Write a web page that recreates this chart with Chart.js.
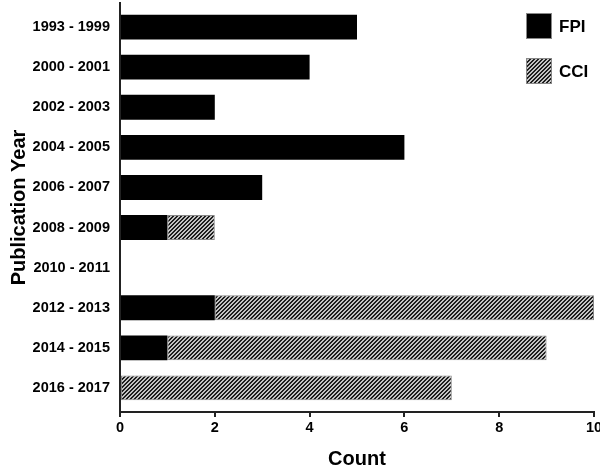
<!DOCTYPE html>
<html>
<head>
<meta charset="utf-8">
<script src="https://cdn.jsdelivr.net/npm/chart.js@4.4.1/dist/chart.umd.min.js"></script>
<style>
html,body{margin:0;padding:0;background:#fff}
#wrap{width:600px;height:466px}
</style>
</head>
<body>
<div id="wrap"><canvas id="chart"></canvas></div>
<script>
// data
const categories=['1993 - 1999','2000 - 2001','2002 - 2003','2004 - 2005','2006 - 2007','2008 - 2009','2010 - 2011','2012 - 2013','2014 - 2015','2016 - 2017'];
const fpiCounts=[5,4,2,6,3,1,0,2,1,0];
const cciCounts=[0,0,0,0,0,1,0,8,8,7];
const countTicks=[0,2,4,6,8,10];

const FONT='"Liberation Sans", Arial, sans-serif';

// diagonal hatch for CCI
function hatch(){
  const c=document.createElement('canvas');c.width=4;c.height=4;
  const g=c.getContext('2d');
  for(let x=0;x<4;x++)for(let y=0;y<4;y++){
    g.fillStyle=((x+y)%4<2)?'#1e1e1e':'#c4c4c4';
    g.fillRect(x,y,1,1);
  }
  return g.createPattern(c,'repeat');
}

const legendBox={
  id:'legendBox',
  afterDraw(chart){
    const ctx=chart.ctx;
    ctx.save();
    chart.data.datasets.forEach((ds,i)=>{
      const y=13+i*45;
      ctx.fillStyle=ds.backgroundColor;ctx.fillRect(526,y,26,26);
      ctx.strokeStyle='#888';ctx.lineWidth=1;ctx.strokeRect(526.5,y+.5,25,25);
      ctx.fillStyle='#000';ctx.font='bold 17px '+FONT;ctx.textBaseline='middle';ctx.textAlign='left';
      ctx.fillText(ds.label,559,y+14);
    });
    ctx.restore();
  }
};

new Chart(document.getElementById('chart').getContext('2d'),{
  type:'bar',
  data:{datasets:[
    {label:'FPI',data:fpiCounts.map((v,i)=>({x:v,y:i})),backgroundColor:'#000',borderWidth:0},
    {label:'CCI',data:cciCounts.map((v,i)=>({x:v,y:i})),backgroundColor:hatch(),borderColor:'#888',borderWidth:1,borderSkipped:false},
  ]},
  options:{
    indexAxis:'y',responsive:true,maintainAspectRatio:false,animation:false,events:[],
    barPercentage:0.62,categoryPercentage:1,
    layout:{padding:{top:3,right:6,left:0,bottom:0}},
    plugins:{legend:{display:false},tooltip:{enabled:false}},
    scales:{
      x:{type:'linear',stacked:true,min:0,max:10,
        afterBuildTicks:s=>{s.ticks=countTicks.map(v=>({value:v}));},
        afterFit:s=>{s.height=54;s.paddingRight=0;s.paddingLeft=0;},
        border:{color:'#222',width:2},
        grid:{drawOnChartArea:false,tickLength:5,color:'#222',lineWidth:2},
        ticks:{padding:2,color:'#000',font:{family:FONT,size:14.5,weight:'bold'}},
        title:{display:true,text:'Count',color:'#000',padding:{top:0,bottom:-3},font:{family:FONT,size:20,weight:'bold',lineHeight:1}}
      },
      y:{type:'linear',stacked:true,reverse:true,min:-0.6,max:9.6,bounds:'data',offset:false,
        afterBuildTicks:s=>{s.ticks=categories.map((c,i)=>({value:i}));},
        afterFit:s=>{s.width=120;s.paddingTop=0;s.paddingBottom=0;},
        border:{color:'#222',width:2},
        grid:{drawOnChartArea:false,drawTicks:false},
        ticks:{padding:10,color:'#000',callback:v=>categories[v],font:{family:FONT,size:14.5,weight:'bold'}},
        title:{display:true,text:'Publication Year',color:'#000',padding:{top:9,bottom:0},font:{family:FONT,size:20,weight:'bold',lineHeight:1}}
      }
    }
  },
  plugins:[legendBox]
});
</script>
</body>
</html>
